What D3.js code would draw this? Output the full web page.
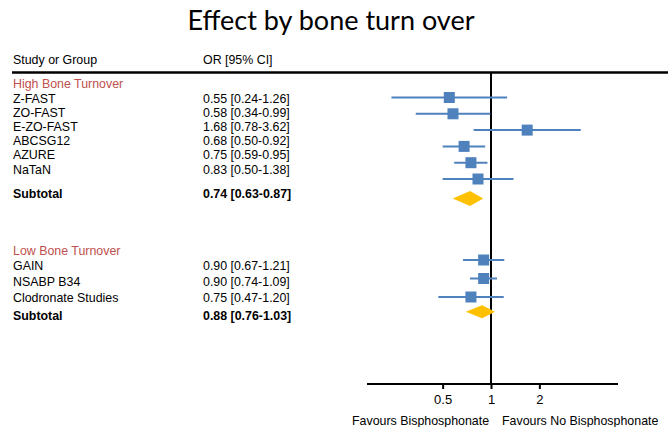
<!DOCTYPE html>
<html>
<head>
<meta charset="utf-8">
<script src="https://cdn.jsdelivr.net/npm/d3@7"></script>
<style>
  body { margin: 0; background: #fff; }
  text { font-family: "Liberation Sans", Arial, sans-serif; }
</style>
</head>
<body>
<div id="chart"></div>
<script>
// Dades
var highStudies = ["Z-FAST", "ZO-FAST", "E-ZO-FAST", "ABCSG12", "AZURE", "NaTaN"];
var highOR  = [0.55, 0.58, 1.68, 0.68, 0.75, 0.83];
var highLow = [0.24, 0.34, 0.78, 0.50, 0.59, 0.50];
var highUp  = [1.26, 0.99, 3.62, 0.92, 0.95, 1.38];
var highSub = [0.74, 0.63, 0.87];

var lowStudies = ["GAIN", "NSABP B34", "Clodronate Studies"];
var lowOR  = [0.90, 0.90, 0.75];
var lowLow = [0.67, 0.74, 0.47];
var lowUp  = [1.21, 1.09, 1.20];
var lowSub = [0.88, 0.76, 1.03];

var tickValues = [0.5, 1, 2];

function fmt(v) { return v.toFixed(2); }
function ciLabel(o, l, u) { return fmt(o) + " [" + fmt(l) + "-" + fmt(u) + "]"; }

var width = 671, height = 427;
var blue = "#4f81bd", gold = "#ffc000", red = "#c0504d";
var fs = "12.4px";

var svg = d3.select("#chart").append("svg")
    .attr("width", width)
    .attr("height", height);

// Titol
svg.append("text")
    .attr("x", 331)
    .attr("y", 30)
    .attr("text-anchor", "middle")
    .style("font-family", "Lato, 'Open Sans', sans-serif")
    .style("font-size", "27px")
    .attr("fill", "#000")
    .text("Effect by bone turn over");

// escala x (log)
var x = d3.scaleLog()
    .domain([1 / 6, 6])
    .range([366, 616]);

var colName = 13, colOR = 203;

// capcalera
svg.append("text").attr("x", colName).attr("y", 64).style("font-size", fs).text("Study or Group");
svg.append("text").attr("x", colOR).attr("y", 64).style("font-size", fs).text("OR [95% CI]");
svg.append("line")
    .attr("x1", 12).attr("x2", 668)
    .attr("y1", 72.5).attr("y2", 72.5)
    .attr("stroke", "#000").attr("stroke-width", 2.5);

// linia de no efecte
var axisY = 384;
svg.append("line")
    .attr("x1", x(1)).attr("x2", x(1))
    .attr("y1", 72).attr("y2", axisY)
    .attr("stroke", "#000").attr("stroke-width", 2);

function drawGroup(label, studies, or, lo, up, sub, textY, plotY, labelRow, subText, subPlot, diamH) {
    svg.append("text")
        .attr("x", colName).attr("y", textY(labelRow) + 4)
        .attr("fill", red).style("font-size", fs)
        .text(label);

    studies.forEach(function (s, i) {
        svg.append("text").attr("x", colName).attr("y", textY(i) + 4.5)
            .style("font-size", fs).text(s);
        svg.append("text").attr("x", colOR).attr("y", textY(i) + 4.5)
            .style("font-size", fs).text(ciLabel(or[i], lo[i], up[i]));
    });

    svg.append("text").attr("x", colName).attr("y", textY(subText) + 4.5)
        .style("font-size", fs).style("font-weight", "bold").text("Subtotal");
    svg.append("text").attr("x", colOR).attr("y", textY(subText) + 4.5)
        .style("font-size", fs).style("font-weight", "bold").text(ciLabel(sub[0], sub[1], sub[2]));

    var g = svg.append("g");
    g.selectAll("line.ci")
        .data(studies)
        .enter()
        .append("line")
        .attr("class", "ci")
        .attr("x1", function (d, i) { return x(lo[i]); })
        .attr("x2", function (d, i) { return x(up[i]); })
        .attr("y1", function (d, i) { return plotY(i); })
        .attr("y2", function (d, i) { return plotY(i); })
        .attr("stroke", blue)
        .attr("stroke-width", 2);

    var sq = 11;
    g.selectAll("rect.pt")
        .data(studies)
        .enter()
        .append("rect")
        .attr("class", "pt")
        .attr("x", function (d, i) { return x(or[i]) - sq / 2; })
        .attr("y", function (d, i) { return plotY(i) - sq / 2; })
        .attr("width", sq)
        .attr("height", sq)
        .attr("fill", blue);

    var cy = plotY(subPlot);
    var dx = x(sub[0]);
    var pts = [[x(sub[1]) - 6, cy], [dx, cy - diamH / 2], [x(sub[2]) + 2, cy], [dx, cy + diamH / 2]];
    g.append("path")
        .attr("d", d3.line()(pts) + "Z")
        .attr("fill", gold);
}

drawGroup("High Bone Turnover", highStudies, highOR, highLow, highUp, highSub,
    d3.scaleLinear().domain([0, 5]).range([98, 169]),
    d3.scaleLinear().domain([0, 5]).range([97.5, 179]),
    -1, 6.75, 6.2, 15);

drawGroup("Low Bone Turnover", lowStudies, lowOR, lowLow, lowUp, lowSub,
    d3.scaleLinear().domain([0, 2]).range([265, 297]),
    d3.scaleLinear().domain([0, 2]).range([260, 297]),
    -0.9, 3.15, 2.8, 13);

// eix
var axis = d3.axisBottom(x)
    .tickValues(tickValues)
    .tickSize(5)
    .tickFormat(d3.format("~g"));

var ax = svg.append("g")
    .attr("transform", "translate(0," + axisY + ")")
    .call(axis);
ax.select(".domain")
    .attr("d", "M" + (x.range()[0] + 1) + ",0H" + (x.range()[1] + 2))
    .attr("stroke-width", 2);
ax.selectAll(".tick line").attr("stroke-width", 2);
ax.selectAll(".tick text")
    .attr("dy", "0.9em")
    .style("font-size", "13px")
    .style("font-family", "'Liberation Sans', Arial, sans-serif");

svg.append("text").attr("x", 352).attr("y", 425).style("font-size", fs).text("Favours Bisphosphonate");
svg.append("text").attr("x", 502).attr("y", 425).style("font-size", fs).text("Favours No Bisphosphonate");
</script>
</body>
</html>
